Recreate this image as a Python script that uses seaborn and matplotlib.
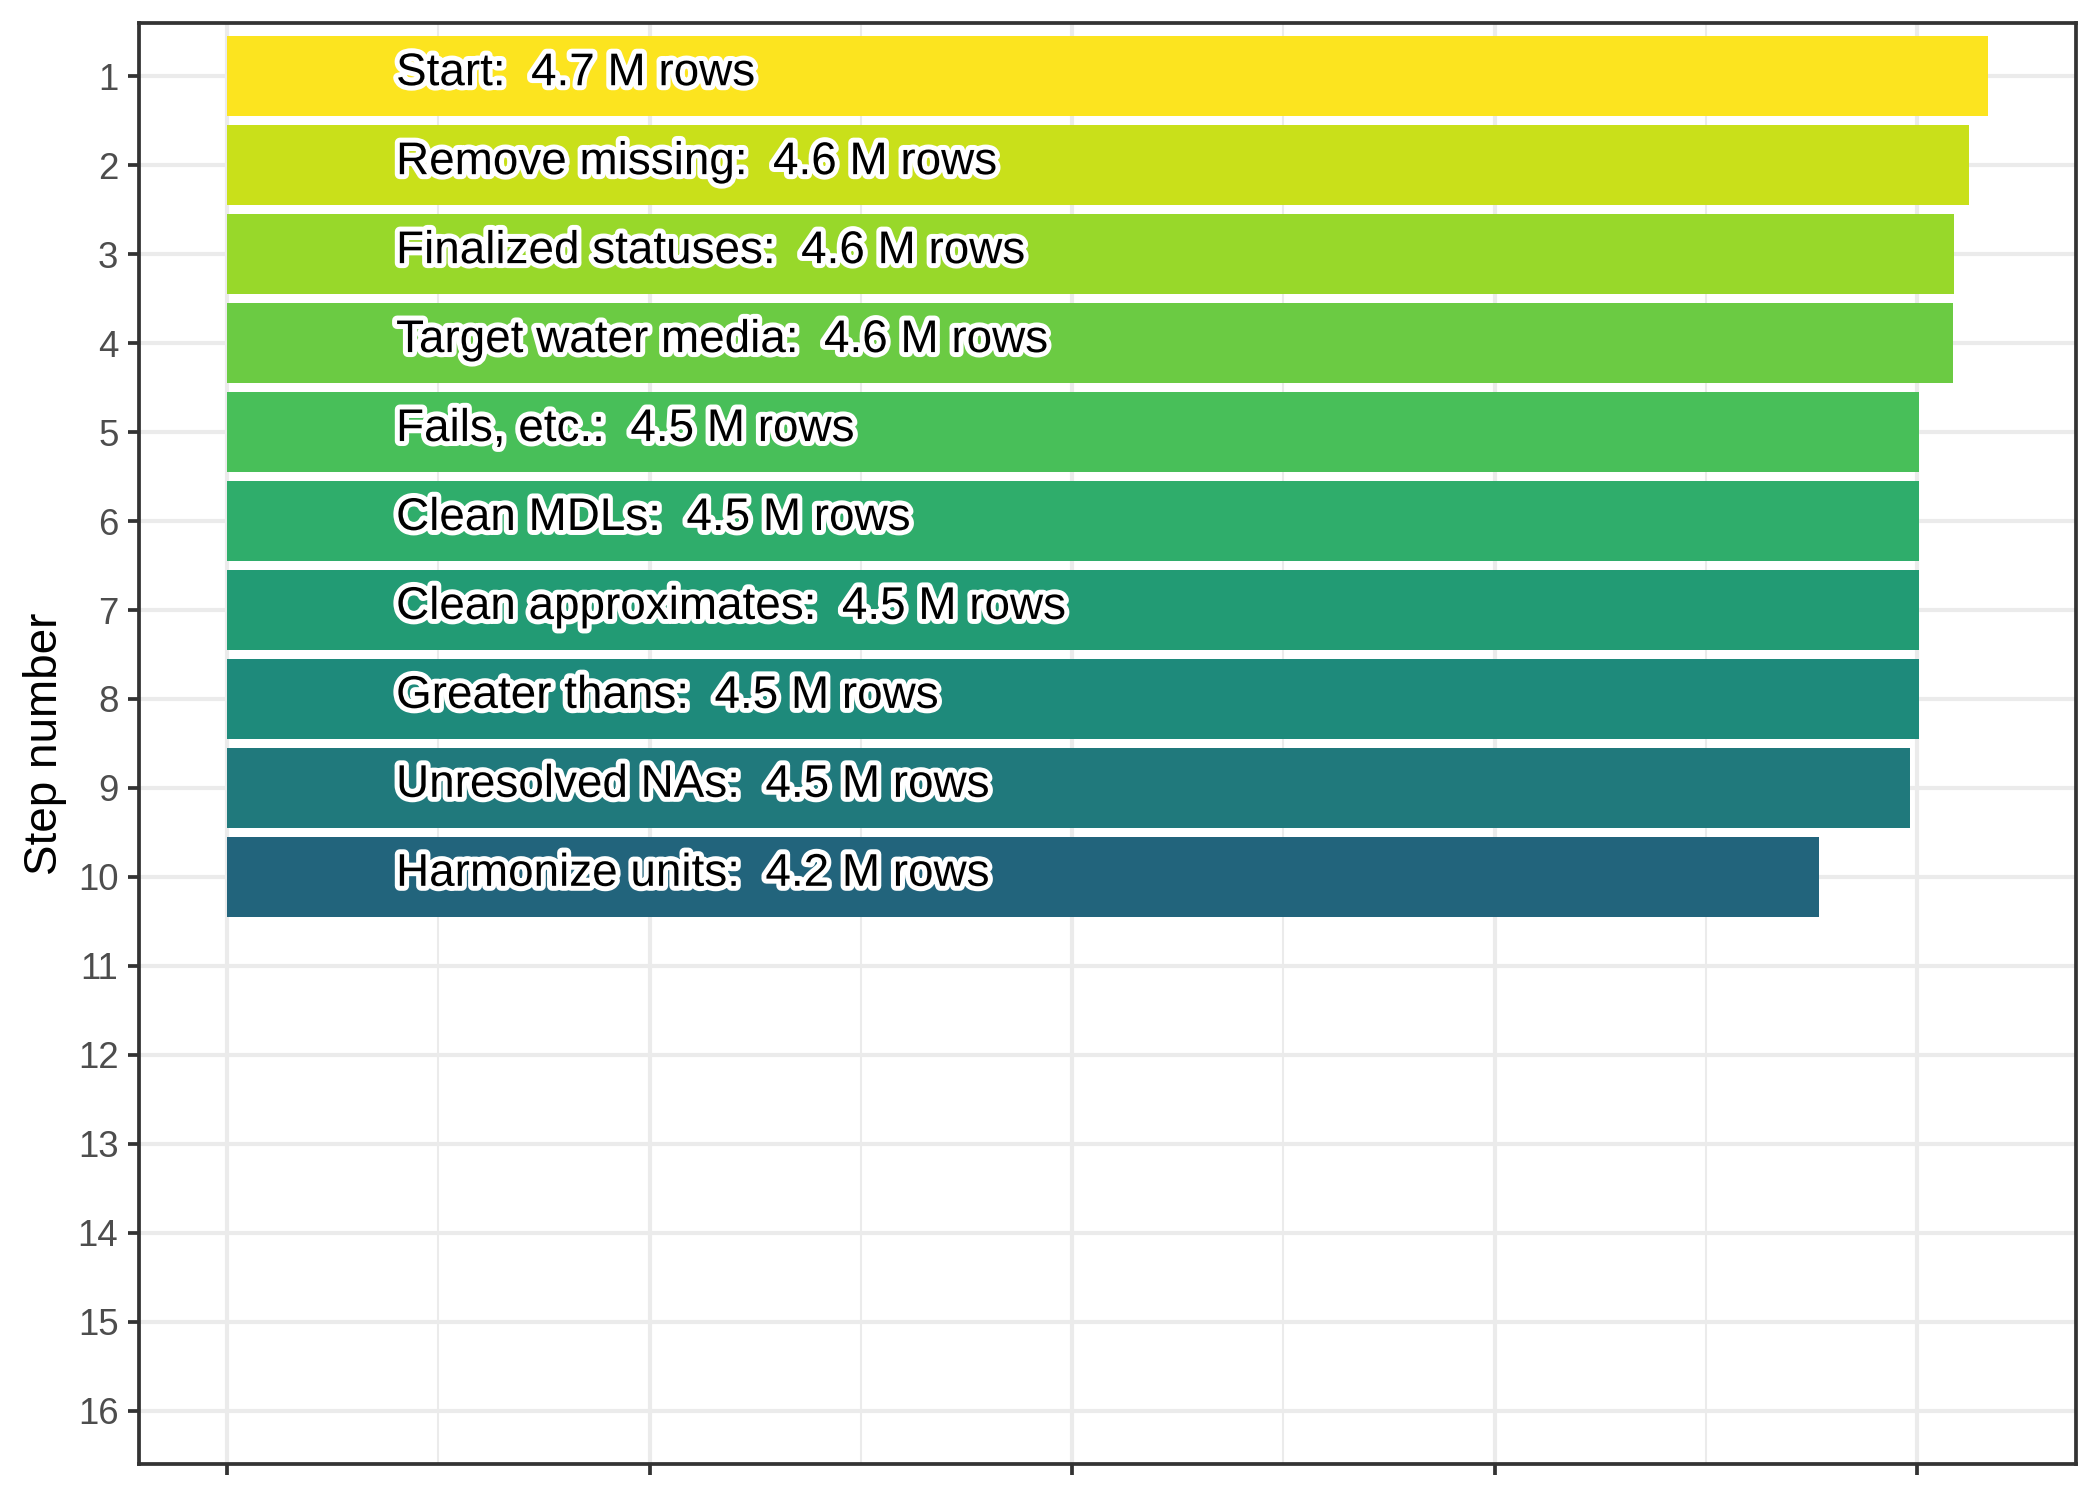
import matplotlib
matplotlib.use("Agg")
import matplotlib.pyplot as plt
import matplotlib.patheffects as pe
from matplotlib.ticker import MultipleLocator
import seaborn as sns

# data
steps = [1, 2, 3, 4, 5, 6, 7, 8, 9, 10]
step_names = ["Start", "Remove missing", "Finalized statuses", "Target water media",
              "Fails, etc.", "Clean MDLs", "Clean approximates", "Greater thans",
              "Unresolved NAs", "Harmonize units"]
rows_m = [4.7, 4.6, 4.6, 4.6, 4.5, 4.5, 4.5, 4.5, 4.5, 4.2]
# bar length on the (unlabelled) x scale
bar_len = [4.168, 4.123, 4.087, 4.085, 4.005, 4.005, 4.005, 4.005, 3.983, 3.768]
y_ticks = list(range(1, 17))

bar_colors = ["#FCE41F", "#C9E01A", "#98D82A", "#6BCB43", "#48BF59",
              "#2FAD6B", "#229B74", "#1E8A7B", "#20797C", "#22647C"]

sns.set_theme(style="white")
plt.rcParams['font.family'] = ['Liberation Sans', 'DejaVu Sans']

fig = plt.figure(figsize=(7, 5), dpi=300)
ax = fig.add_axes([0.0662, 0.024, 0.9886 - 0.0662, 0.9847 - 0.024])

sns.barplot(x=bar_len, y=steps, hue=steps, palette=bar_colors, orient="y",
            native_scale=True, width=0.9, saturation=1, legend=False,
            linewidth=0, ax=ax)

labels = [f"{n}:  {r} M rows" for n, r in zip(step_names, rows_m)]
for s, lab in zip(steps, labels):
    ax.text(0.40, s + 0.1, lab, ha="left", va="baseline", fontsize=11.0, color="black",
            path_effects=[pe.withStroke(linewidth=2.4, foreground="white")], zorder=5)

span = max(bar_len)
ax.set_xlim(-0.05 * span, span * 1.05)
ax.set_ylim(16.6, 0.4)
ax.set_yticks(y_ticks)
ax.set_yticklabels([str(t) for t in y_ticks])
ax.xaxis.set_major_locator(MultipleLocator(1))
ax.xaxis.set_minor_locator(MultipleLocator(0.5))
ax.set_xticklabels([])

ax.set_axisbelow(True)
ax.grid(axis="x", which="major", color="#EBEBEB", linewidth=1.0)
ax.grid(axis="x", which="minor", color="#EBEBEB", linewidth=0.5)
ax.grid(axis="y", which="major", color="#EBEBEB", linewidth=1.0)

ax.tick_params(axis="both", which="major", length=2.75, width=0.9, color="#333333",
               labelsize=8.8, labelcolor="#4D4D4D", pad=2.2, left=True, bottom=True)
ax.tick_params(axis="x", which="minor", length=0)
for sp in ax.spines.values():
    sp.set_color("#333333")
    sp.set_linewidth(0.9)

ax.set_xlabel("")
ax.set_ylabel("Step number", fontsize=11, color="black", labelpad=2.5)

fig.savefig("out.png", dpi=300, facecolor="white")
